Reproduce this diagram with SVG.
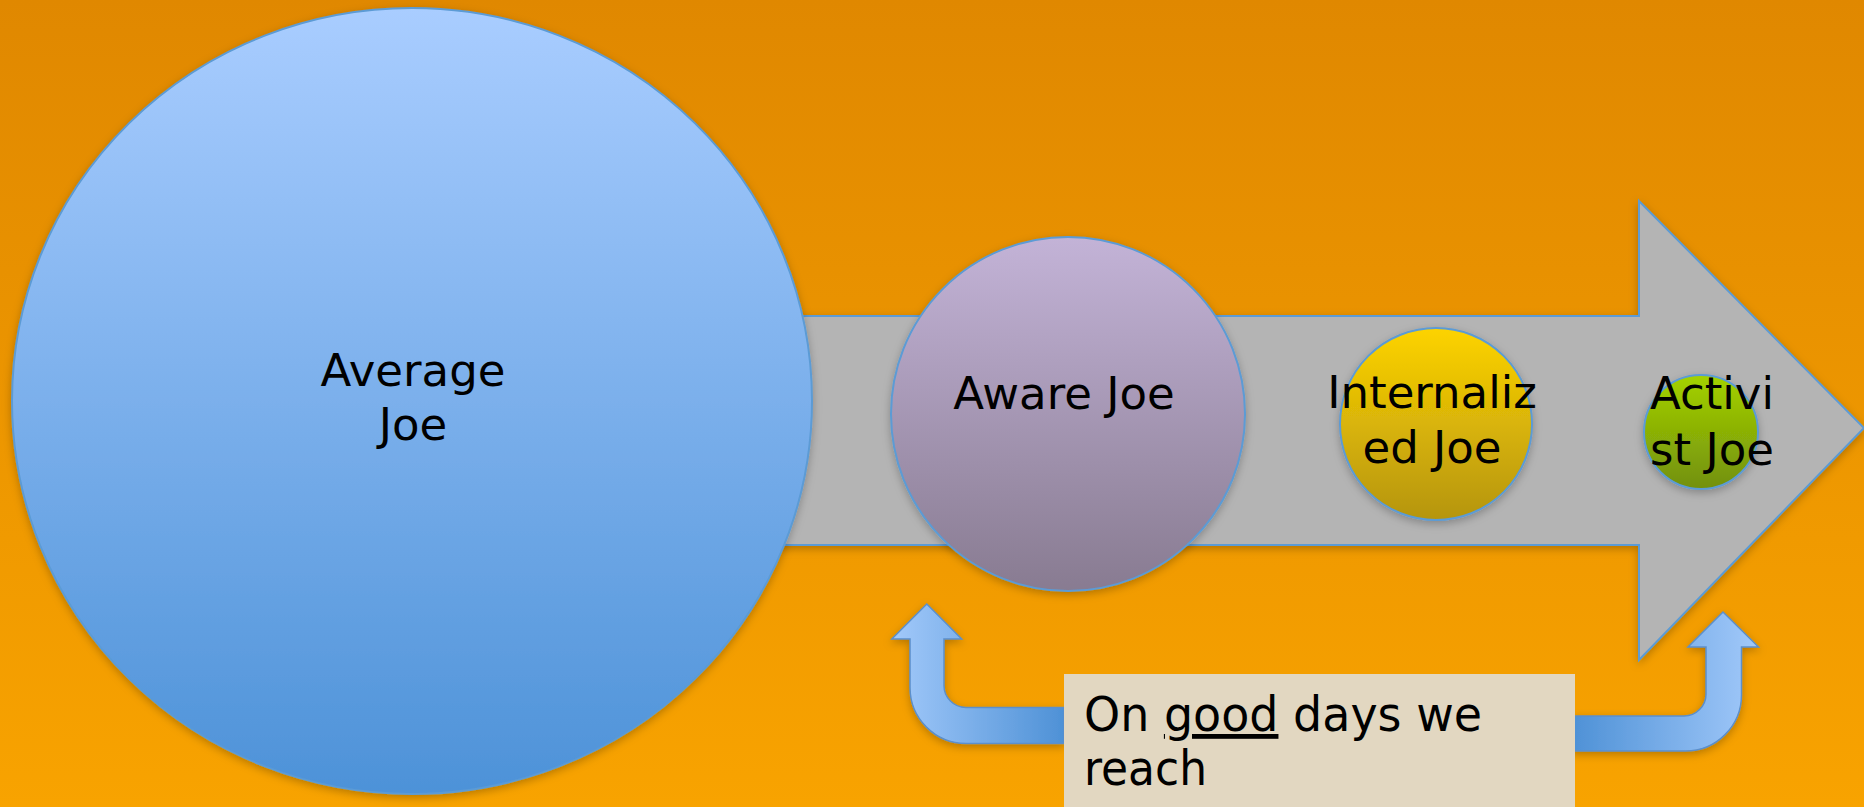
<svg xmlns="http://www.w3.org/2000/svg" width="1864" height="807" viewBox="0 0 1864 807">
<defs>
<linearGradient id="bg" x1="0" y1="0" x2="0" y2="1"><stop offset="0" stop-color="#E08800"/><stop offset="1" stop-color="#F8A300"/></linearGradient>
<linearGradient id="gAvg" x1="0" y1="0" x2="0" y2="1"><stop offset="0" stop-color="#A9CDFF"/><stop offset="1" stop-color="#4D92D8"/></linearGradient>
<linearGradient id="gAware" x1="0" y1="0" x2="0" y2="1"><stop offset="0" stop-color="#C3B3D7"/><stop offset="1" stop-color="#887B91"/></linearGradient>
<linearGradient id="gInt" x1="0" y1="0" x2="0" y2="1"><stop offset="0" stop-color="#FDD300"/><stop offset="1" stop-color="#B5950F"/></linearGradient>
<linearGradient id="gAct" x1="0" y1="0" x2="0" y2="1"><stop offset="0" stop-color="#A4D200"/><stop offset="1" stop-color="#72900C"/></linearGradient>
<linearGradient id="gL" x1="0" y1="0" x2="1" y2="0"><stop offset="0" stop-color="#A2C9FA"/><stop offset="1" stop-color="#4E91D6"/></linearGradient>
<linearGradient id="gR" x1="0" y1="0" x2="1" y2="0"><stop offset="0" stop-color="#4E91D6"/><stop offset="1" stop-color="#A2C9FA"/></linearGradient>
<filter id="sh" x="-10%" y="-10%" width="120%" height="130%"><feDropShadow dx="0" dy="3" stdDeviation="4" flood-color="#000" flood-opacity="0.25"/></filter>
<style>
.lbl{font-family:"DejaVu Sans","Liberation Sans",sans-serif;font-size:45px;fill:#000;text-anchor:middle}
.box{font-family:"DejaVu Sans","Liberation Sans",sans-serif;font-size:48px;fill:#000}
.node{stroke:#5B9BD5;stroke-width:2}
.bend{stroke:#5B8FCB;stroke-width:1.5}
</style>
</defs>
<rect width="1864" height="807" fill="url(#bg)"/>
<g id="connectors">
<path id="main-arrow" d="M 780 316 L 1639 316 L 1639 201 L 1864 428 L 1639 660 L 1639 545 L 780 545 Z" fill="#B4B4B4" stroke="#5B9BD5" stroke-width="2" filter="url(#sh)"/>
<path id="bend-left" class="bend" d="M 1064 707.5 L 966 707.5 A 22 22 0 0 1 944 685.5 L 944 639 L 961.7 639 L 926.8 604 L 891.8 639 L 910 639 L 910 687.5 A 56 56 0 0 0 966 743.5 L 1064 743.5 Z" fill="url(#gL)" filter="url(#sh)"/>
<path id="bend-right" class="bend" d="M 1572 716 L 1684 716 A 22 22 0 0 0 1706 694 L 1706 647 L 1688 647 L 1723 612 L 1758.5 647 L 1741.5 647 L 1741.5 695 A 56 56 0 0 1 1685.5 751 L 1572 751 Z" fill="url(#gR)" filter="url(#sh)"/>
</g>
<g id="average-joe">
<ellipse class="node" cx="412" cy="401" rx="400" ry="393" fill="url(#gAvg)" filter="url(#sh)"/>
<text class="lbl" x="413" y="386">Average</text>
<text class="lbl" x="413" y="440">Joe</text>
</g>
<g id="aware-joe">
<circle class="node" cx="1068" cy="414" r="177" fill="url(#gAware)" filter="url(#sh)"/>
<text class="lbl" x="1064" y="409">Aware Joe</text>
</g>
<g id="internalized-joe">
<circle class="node" cx="1436" cy="424" r="96" fill="url(#gInt)" filter="url(#sh)"/>
<text class="lbl" x="1432" y="408">Internaliz</text>
<text class="lbl" x="1432" y="463">ed Joe</text>
</g>
<g id="activist-joe">
<circle class="node" cx="1701" cy="432" r="57" fill="url(#gAct)" filter="url(#sh)"/>
<text class="lbl" x="1712" y="409">Activi</text>
<text class="lbl" x="1712" y="465">st Joe</text>
</g>
<g id="note">
<rect x="1064" y="674" width="511" height="133" fill="#E2D7C1"/>
<text class="box" x="1084" y="731" textLength="398" lengthAdjust="spacingAndGlyphs">On <tspan text-decoration="underline">good</tspan> days we</text>
<text class="box" x="1084" y="785" textLength="123" lengthAdjust="spacingAndGlyphs">reach</text>
</g>
</svg>
